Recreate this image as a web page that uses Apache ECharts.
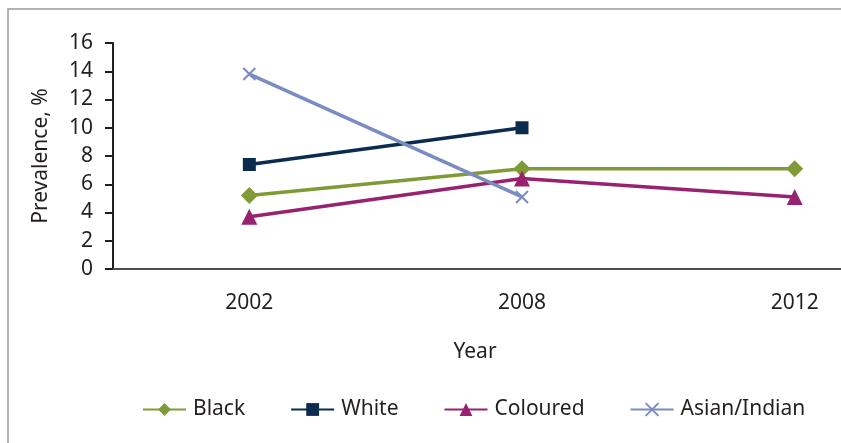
<!DOCTYPE html>
<html><head><meta charset="utf-8">
<script src="https://cdn.jsdelivr.net/npm/echarts@6/dist/echarts.min.js"></script>
<style>html,body{margin:0;padding:0;background:#fff}#c{width:841px;height:443px}</style>
</head><body><div id="c"></div>
<script>
const years = ['2002', '2008', '2012'];
const black = [5.2, 7.1, 7.1];
const white = [7.4, 10.0, null];
const coloured = [3.7, 6.4, 5.1];
const asian = [13.8, 5.1, null];
const yTicks = [0, 2, 4, 6, 8, 10, 12, 14, 16];

const chart = echarts.init(document.getElementById('c'));
const font = 'Noto Sans';
function s(name, data, color, symbol, size, extra) {
  return {
    name, type: 'line', data, symbol, symbolSize: size,
    connectNulls: false,
    lineStyle: { color, width: 3.5 },
    itemStyle: Object.assign({ color }, extra || {}),
    emphasis: { disabled: true }
  };
}
chart.setOption({
  animation: false,
  textStyle: { fontFamily: font },
  grid: { left: 113, top: 43, right: -90, height: 226, containLabel: false, outerBoundsMode: 'none' },
  xAxis: {
    type: 'category', data: years, boundaryGap: true,
    axisLine: { lineStyle: { color: '#4d4d4d', width: 2 } },
    axisTick: { show: false },
    axisLabel: { color: '#231f20', fontSize: 21, margin: 24, fontFamily: font }
  },
  yAxis: {
    type: 'value', min: yTicks[0], max: yTicks[yTicks.length - 1], interval: 2,
    name: 'Prevalence, %', nameLocation: 'middle', nameGap: 61, nameRotate: 90,
    nameTextStyle: { color: '#231f20', fontSize: 21, fontFamily: font },
    axisLine: { show: true, lineStyle: { color: '#231f20', width: 2 } },
    axisTick: { show: true, length: 8, lineStyle: { color: '#231f20', width: 2 } },
    axisLabel: { color: '#231f20', fontSize: 21, margin: 20, fontFamily: font },
    splitLine: { show: false }
  },
  legend: {
    top: 394, left: 137, itemGap: 45, itemWidth: 43, itemHeight: 16,
    textStyle: { color: '#231f20', fontSize: 21, fontFamily: font, padding: [0, 0, 0, 2] },
    data: ['Black', 'White', 'Coloured', 'Asian/Indian']
  },
  graphic: [
    { type: 'rect', shape: { x: 8, y: 9, width: 900, height: 500 }, style: { fill: null, stroke: '#999', lineWidth: 1.5 }, silent: true },
    { type: 'text', x: 475, y: 352, style: { text: 'Year', fontSize: 21, fontFamily: font, fill: '#231f20', align: 'center', verticalAlign: 'middle' } }
  ],
  series: [
    s('Black', black, '#7f9a37', 'diamond', 17),
    s('White', white, '#0b2b4f', 'rect', 13),
    s('Coloured', coloured, '#97226f', 'triangle', 16),
    s('Asian/Indian', asian, '#7a8cc2', 'path://M0,0 L10,10 M10,0 L0,10', 12,
      { color: 'none', borderColor: '#7a8cc2', borderWidth: 2 })
  ]
});
</script></body></html>
